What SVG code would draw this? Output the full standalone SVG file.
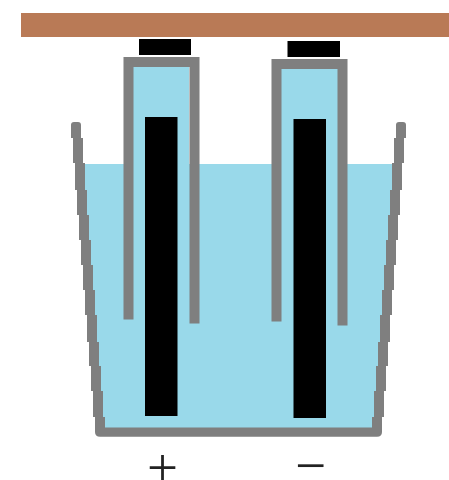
<svg xmlns="http://www.w3.org/2000/svg" width="449" height="480" viewBox="0 0 449 480">
<style>
.w{fill:#99d9ea}.g{fill:#7f7f7f}.k{fill:#000}
text{font-family:"Liberation Serif","DejaVu Serif",serif;font-size:55px;fill:#222}
</style>
<defs><filter id="soft" x="-2%" y="-2%" width="104%" height="104%"><feGaussianBlur stdDeviation="0.45"/></filter></defs>
<rect width="449" height="480" fill="#fff"/>
<g filter="url(#soft)">
<rect id="bar" x="21" y="13" width="430" height="24" fill="#b97a57"/>
<rect id="cap-left" class="k" x="139" y="39" width="52" height="16"/>
<rect id="cap-right" class="k" x="287.500" y="41" width="52.500" height="16"/>
<path id="water" class="w" d="M78 164H399L378 432H100Z"/>
<rect class="w" x="133" y="67" width="56" height="100"/>
<rect class="w" x="281" y="69" width="57" height="100"/>
<path id="vessel" class="g" d="M71 125q0-3 3-3h4q3 0 3 3v13h-10zM73 138h10v25h-10zM75 163h10v27h-10zM77 190h10v25h-10zM79 215h10v25h-10zM81 240h10v25h-10zM83 265h10v25h-10zM85 290h10v25h-10zM87 315h10v27h-10zM89 342h10v24h-10zM91 366h10v25h-10zM93 391h10v26h-10zM95 417h10v10.500H372v-10.500h10V432q0 4.700-5 4.700H100q-5 0-5-4.700zM396 125q0-3 3-3h4q3 0 3 3v13h-10zM394 138h10v25h-10zM392 163h10v27h-10zM390 190h10v25h-10zM388 215h10v25h-10zM386 240h10v25h-10zM384 265h10v25h-10zM382 290h10v25h-10zM380 315h10v27h-10zM378 342h10v24h-10zM376 366h10v25h-10zM374 391h10v26h-10z"/>
<path id="tube-left" class="g" d="M123.500 57H199.500V323.500H189.500V67H133.500V319.500H123.500Z"/>
<path id="tube-right" class="g" d="M271.500 59H347.500V325.500H337.500V69H281.500V321.500H271.500Z"/>
<rect id="electrode-left" class="k" x="145" y="117" width="32.500" height="299"/>
<rect id="electrode-right" class="k" x="293.500" y="119" width="32.500" height="299"/>
</g>
<text id="plus" x="162.500" y="485.500" text-anchor="middle">+</text>
<text id="minus" x="310.500" y="483.500" text-anchor="middle">−</text>
</svg>
